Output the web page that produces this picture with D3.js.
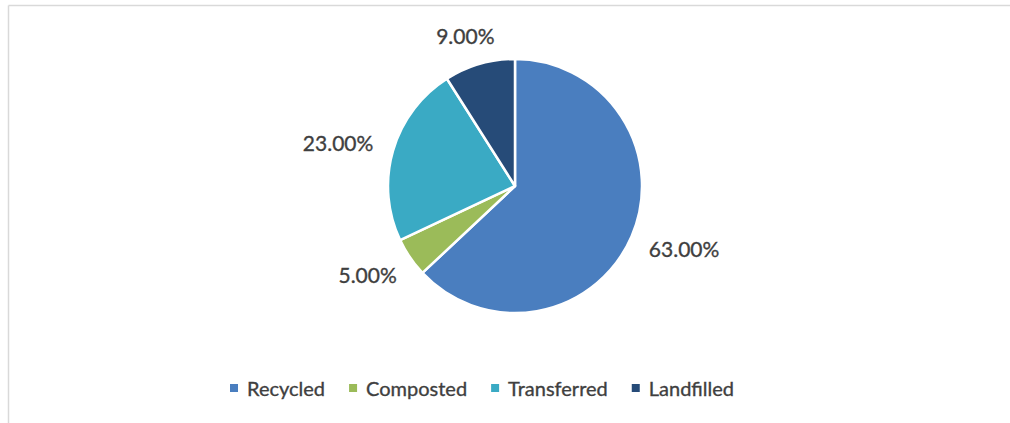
<!DOCTYPE html>
<html>
<head>
<meta charset="utf-8">
<script src="https://cdn.jsdelivr.net/npm/d3@7"></script>
<style>
  body { margin: 0; background: #fff; }
  text { font-family: Lato, "Open Sans", sans-serif; fill: #3f3f3f; }
</style>
</head>
<body>
<script>
const categories = ['Recycled', 'Composted', 'Transferred', 'Landfilled'];
const shares = [63, 5, 23, 9];
const colours = ['#4a7ebf', '#9bbb59', '#3aaac4', '#264b78'];

const width = 1010, height = 423;
const cx = 515, cy = 186, r = 127;

const svg = d3.select('body').append('svg')
    .attr('width', width)
    .attr('height', height);

// chart frame (only top and left edges show in the crop)
svg.append('line')
    .attr('x1', 8.5).attr('y1', 5.5).attr('x2', width).attr('y2', 5.5)
    .style('stroke', '#d9d9d9').style('stroke-width', 1.5);
svg.append('line')
    .attr('x1', 8.5).attr('y1', 5.5).attr('x2', 8.5).attr('y2', height)
    .style('stroke', '#d9d9d9').style('stroke-width', 1.5);

const color = d3.scaleOrdinal().domain(categories).range(colours);
const data = categories.map((c, i) => ({name: c, value: shares[i]}));

const pie = d3.pie().sort(null).value(d => d.value);
const arc = d3.arc().innerRadius(0).outerRadius(r);
const arcs = pie(data);

const g = svg.append('g').attr('transform', 'translate(' + cx + ',' + cy + ')');

g.selectAll('.slice')
    .data(arcs)
    .enter().append('path')
    .attr('class', 'slice')
    .attr('d', arc)
    .style('fill', d => color(d.data.name))
    .style('stroke', '#fff')
    .style('stroke-width', 2.5)
    .style('stroke-linejoin', 'round');

// labels sit outside the end of each slice
const fmt = d3.format('.2f');
g.selectAll('.lbl')
    .data(arcs)
    .enter().append('text')
    .attr('class', 'lbl')
    .attr('text-anchor', 'middle')
    .attr('dominant-baseline', 'central')
    .style('font-size', '21px')
    .style('stroke', '#3f3f3f')
    .style('stroke-width', 0.35)
    .text(d => fmt(d.data.value) + '%')
    .each(function(d){
        let a = (d.startAngle + d.endAngle) / 2;
        let sx = Math.sin(a), sy = -Math.cos(a);
        let w = this.getComputedTextLength();
        let x = sx * (r + 22) + sx * w / 2;
        let y = sy * (r + 22) + sy * 8;
        d3.select(this).attr('x', x).attr('y', y);
    });

// legend
const legend = svg.append('g');
let pos = 0;
const items = legend.selectAll('.item')
    .data(categories)
    .enter().append('g')
    .attr('class', 'item');
items.append('rect')
    .attr('width', 8).attr('height', 8)
    .attr('y', -4)
    .style('fill', d => color(d));
items.append('text')
    .attr('x', 17)
    .attr('dominant-baseline', 'central')
    .style('font-size', '20px')
    .style('stroke', '#3f3f3f')
    .style('stroke-width', 0.35)
    .text(d => d);
items.each(function(){
    let w = this.getBBox().width;
    d3.select(this).attr('transform', 'translate(' + pos + ',0)');
    pos += w + 24;
});
let total = pos - 24;
legend.attr('transform', 'translate(' + (482 - total / 2) + ',388)');
</script>
</body>
</html>
